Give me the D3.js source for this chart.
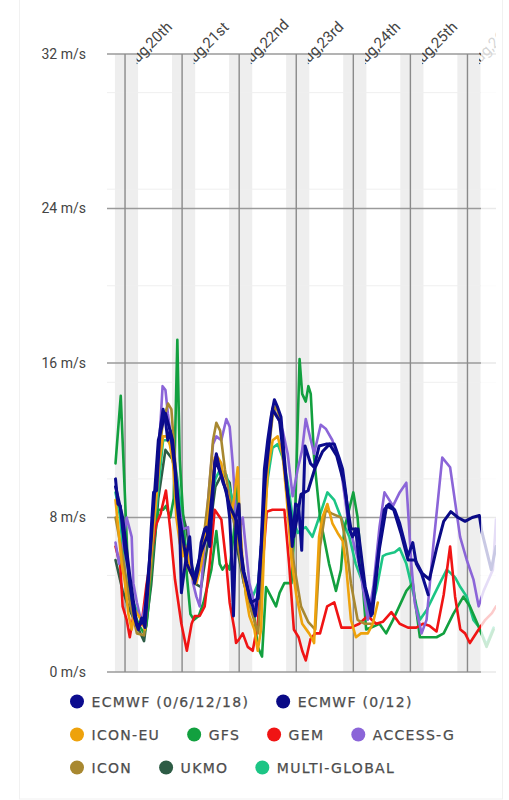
<!DOCTYPE html>
<html>
<head>
<meta charset="utf-8">
<script src="https://cdn.jsdelivr.net/npm/d3@7"></script>
<style>
  html, body { margin: 0; padding: 0; background: #fff; }
  svg { display: block; }
  .ylab { font-family: Roboto, sans-serif; font-size: 14px; fill: #444; }
  .dlab { font-family: Roboto, sans-serif; font-size: 15px; fill: #444; }
  .leg  { font-family: "DejaVu Sans", sans-serif; font-size: 14px; fill: #4d4d4d; stroke: #4d4d4d; stroke-width: 0.25px; letter-spacing: 1.3px; }
</style>
</head>
<body>
<div id="chart"></div>
<script>
// hours are counted from Aug 20th 00:00
const baseDay = new Date(2024, 7, 20, 0, 0)
const startHour = -8, endHour = 156

// axis ticks
const yTicks = [0, 8, 16, 24, 32]
const minorTicks = [5, 10, 15, 20, 25, 30]
const dayHours = [0, 24, 48, 72, 96, 120, 144]
const dayLabels = ["Aug,20th", "Aug,21st", "Aug,22nd", "Aug,23rd", "Aug,24th", "Aug,25th", "Aug,26th"]
// night (grey bands): 19:45 -> 05:30
const nightStart = -4.25, nightEnd = 5.5

// legend
const models = ["ECMWF (0/6/12/18)", "ECMWF (0/12)", "ICON-EU", "GFS", "GEM", "ACCESS-G", "ICON", "UKMO", "MULTI-GLOBAL"]
const colors = ["#0c0c8f", "#0a0a86", "#eea20c", "#12a03f", "#f01414", "#8b65d8", "#a88830", "#2d5c45", "#1cc585"]
const legendRows = [[0, 1], [2, 3, 4, 5], [6, 7, 8]]

// series [hour, m/s]
const ecmwf6 = [[-4,10.0],[-3,8.7],[-2,8.6],[-1,7.4],[0,6.3],[1,5.6],[2,4.6],[4,2.8],[5.6,2.2],[7,2.8],[8.4,2.3],[9.8,4.6],[11,7.4],[12,9.3],[13.3,9.4],[14.7,12.5],[16,13.6],[17,13.0],[18,12.0],[19,12.5],[20,11.5],[21,10.5],[21.6,9.1],[23,7.4],[23.7,4.1],[25,5.3],[25.8,6.0],[27.2,7.0],[28,5.6],[29.3,4.6],[30.7,5.3],[32,6.7],[33.5,7.4],[34.2,7.5],[35.6,6.5],[36.7,8.7],[37.7,10.8],[38.4,11.3],[39.8,10.5],[41.2,9.8],[42.6,9.4],[44,8.0],[44.6,6.5],[45.6,2.9],[46.7,8.0],[47.9,8.7],[48.8,6.2],[49.5,5.3],[51,4.6],[52.3,3.9],[53.7,3.4],[54.8,2.9],[55.8,4.1],[57.2,6.5],[58.6,10.5],[60,12.0],[61.4,13.2],[62.8,14.1],[64.2,13.7],[65.6,13.2],[67,11.1],[68.4,9.1],[69.8,7.4],[70.3,6.5],[71.7,8.7],[73,8.6],[74.3,6.3],[75.7,11.7],[78,10.8],[79.5,10.6],[81.6,11.7],[84.5,11.8],[88,11.8],[90,11.1],[91.5,10.5],[93,9.1],[94.3,7.4],[95.7,7.0],[97,7.4],[98.5,5.6],[101.4,4.1],[103.5,2.9],[105,4.6],[107,6.7],[109,8.4],[111,8.7],[113.4,8.4],[115.5,7.7],[117.6,6.7],[119,6.0],[121,6.7],[122.5,5.6],[124.7,5.1],[127.5,4.0]]
const ecmwf12 = [[-4,9.6],[-1,8.0],[2,5.0],[5,2.4],[8,2.6],[11,6.8],[14,12.0],[17,13.4],[20,12.0],[23,8.0],[26,5.6],[29,4.8],[32,6.2],[35,7.2],[38,11.0],[41,10.0],[44,8.6],[47,7.8],[50,5.2],[53,3.6],[56,3.8],[59,10.0],[62,13.6],[65,13.0],[68,9.6],[71,7.0],[74,9.2],[77,9.4],[80,10.6],[83,11.4],[86,11.8],[89,11.2],[92,9.8],[95,7.4],[98,7.4],[101,4.4],[104,3.0],[107,6.4],[110,8.6],[113,8.4],[116,7.2],[119,5.8],[122,5.8],[125,5.1],[128,4.8],[131,6.4],[134,7.8],[137,8.3],[140,8.0],[143,7.8],[146,8.0],[149,8.1],[150,7.3],[154,5.3],[156,6.5]]
const iconEu = [[-4,8.9],[-2.8,7.4],[-1.4,5.6],[0,4.6],[1.4,3.0],[2.8,2.2],[4.2,3.2],[6.3,2.8],[8.4,2.2],[10.5,5.6],[12.6,8.3],[14.7,11.1],[16,12.2],[17.4,12.2],[18.8,11.8],[20.2,10.8],[21.6,8.0],[23,6.7],[24.4,6.0],[25.8,6.5],[27.2,5.3],[28.6,4.8],[30,4.6],[32.1,5.6],[34.9,8.0],[36.3,9.4],[37.7,11.1],[39.1,11.1],[40.5,10.8],[41.9,9.6],[43.3,9.1],[44.6,8.0],[46,9.1],[47.4,10.6],[48.1,8.2],[49.5,5.6],[50.9,3.9],[52.3,2.9],[54.4,2.2],[55.8,1.1],[57.2,2.2],[58.6,6.8],[60,10.5],[62.1,12.0],[64.2,12.2],[66.3,11.2],[68,9.0],[70,5.8],[72,4.0],[74.5,2.5],[77.4,2.0],[78.8,1.7],[79.5,1.5],[81.6,7.0],[83,8.0],[85.1,8.7],[87.2,7.7],[89.4,7.2],[91.5,6.8],[92.9,5.6],[95,2.7],[97.1,1.8],[99.2,2.0],[102.1,2.0],[104.2,2.5],[106.3,3.6]]
const gfs = [[-4,10.8],[-1.8,14.3],[0,9.0],[1,6.0],[2,4.0],[4,3.0],[6,2.4],[8,2.0],[9,2.4],[10,3.6],[12,6.5],[14,8.4],[16,8.4],[17.2,8.6],[19,8.0],[20.5,9.0],[22,17.2],[23,11.0],[24.5,8.0],[26,5.0],[27.5,3.0],[29,2.7],[31,2.9],[33,3.6],[36.3,5.3],[38.4,7.3],[39.8,5.6],[41,5.3],[42.6,5.6],[44,5.3],[46,7.5],[47.4,9.8],[49,6.0],[51,3.9],[53.7,3.6],[55.8,1.3],[57.6,0.8],[59.3,4.4],[61.4,3.9],[63.5,3.4],[65,4.1],[67,4.6],[70,4.6],[71.5,8.0],[73.4,16.2],[74.5,14.4],[76,14.0],[77.1,14.8],[78.1,14.4],[79.5,11.1],[82,8.0],[85.8,5.6],[88.7,4.2],[90.8,5.3],[92.2,7.4],[96,9.3],[97.8,8.0],[101.4,2.2],[103.5,2.3],[107,2.5],[109.8,2.0],[112.7,2.7],[118.3,4.2],[121,4.6],[124,1.8],[127.6,1.8],[131,1.8],[134,2.0],[138,3.0],[142.3,3.9],[145,3.4],[148.7,2.35],[152,1.3],[155,2.2]]
const gem = [[-4,6.5],[-2,5.5],[-1,3.4],[0.7,2.7],[2,1.8],[3.5,2.9],[5,2.2],[7,2.5],[9,4.5],[11,6.0],[13,7.6],[15,8.2],[17.2,9.4],[19,7.4],[21,4.8],[23.7,2.5],[26,1.1],[28,2.5],[29.3,2.9],[31.4,2.9],[33.5,3.4],[35.6,5.6],[37.7,8.4],[40.5,7.9],[42.6,5.6],[44,3.6],[46,2.2],[46.7,1.5],[48,1.7],[49.5,2.0],[51.6,1.3],[53.7,1.1],[55.8,2.5],[57.9,5.6],[59.6,8.3],[62,8.4],[65,8.4],[67,8.4],[69,5.6],[71,2.2],[73,1.8],[74.5,1.1],[76,0.6],[78,1.7],[80,2.0],[82,2.0],[85,3.4],[88,3.6],[91,2.3],[95,2.3],[98.5,2.5],[102,2.9],[105.6,2.5],[108.4,2.6],[112,3.1],[115.5,2.5],[119,2.3],[122.5,2.3],[125.4,2.5],[128,2.4],[131,2.1],[134,4.0],[136.7,6.5],[138.8,3.9],[141,2.2],[143,2.0],[145,1.5],[148.7,2.2],[151.5,2.7],[154.3,3.05],[156,3.4]]
const accessG = [[-4,6.7],[-2.5,5.6],[-1,6.5],[0.7,8.0],[2.8,7.0],[3.5,4.6],[5,3.6],[7,2.5],[9,3.9],[11,6.0],[13,9.0],[14.5,12.0],[15.8,14.8],[17,14.6],[18,13.4],[19.5,12.0],[20.9,10.3],[22,9.1],[24.4,7.4],[26.5,7.5],[28.6,4.6],[30,3.9],[31.4,3.4],[32.8,5.6],[35,9.0],[37,11.8],[38.4,12.2],[40.5,12.0],[42.6,13.1],[44,12.7],[45.3,10.8],[46.7,8.0],[48.1,7.4],[49.5,8.0],[50.9,6.3],[52.3,4.6],[53.7,3.9],[55,3.0],[57,6.0],[60,11.7],[62.1,13.7],[64.2,13.2],[66.3,12.5],[68.4,11.3],[70.5,9.1],[72.6,10.5],[74.5,11.5],[76,13.1],[79.5,11.3],[82.3,12.8],[84.4,12.6],[87.2,12.0],[90.8,10.5],[93.6,8.0],[95,7.2],[98.5,5.6],[102.1,2.7],[104.5,4.5],[107,7.5],[109.1,9.3],[112.7,8.6],[115.5,9.3],[118.3,9.8],[120.4,5.6],[121.8,3.6],[124.7,2.0],[126.8,2.7],[129.6,6.5],[133.4,11.1],[136.7,10.6],[140.9,7.0],[143.7,5.8],[146.5,4.8],[148.7,3.4],[150.8,4.2],[154.7,5.3],[156,7.9]]
const icon = [[-4,8.0],[-1,6.0],[2,3.6],[5,2.0],[8,1.9],[11,5.5],[14,11.0],[16,13.0],[18.1,13.9],[19.5,13.6],[21,11.0],[23,7.5],[26,5.5],[29,4.8],[32,5.8],[35,9.0],[37,12.0],[38.4,12.9],[40,12.5],[42,10.5],[44,9.0],[47,7.0],[50,4.6],[53,3.2],[56,2.0],[58,6.0],[60,11.0],[62,13.2],[63.5,13.8],[65,13.2],[67,11.0],[69,8.0],[71,5.6],[74,3.4],[77,2.6],[80,2.2],[82,6.5],[84.4,8.4],[87,8.2],[90.8,8.0],[92.9,6.7],[95,4.6],[97.8,2.7],[100.7,2.5],[103.5,2.5]]
const ukmo = [[-4,5.8],[-1,4.2],[2,3.2],[5,2.4],[8,1.6],[11,4.5],[14,9.0],[17,11.5],[20,11.0],[23,8.8],[26,7.3],[29,4.6],[32,4.4],[35,6.8],[38,9.6],[41,10.3],[44,9.8],[47,6.5],[50,4.6],[53,3.6]]
const multi = [[-4,9.3],[-2,8.0],[-0.5,5.6],[1,4.0],[3.5,3.6],[6,2.9],[8,2.6],[10,4.0],[12,7.0],[14,9.5],[16,12.0],[18,12.0],[20,11.6],[22,10.0],[24,8.0],[26,6.0],[29,5.0],[32,6.0],[35,8.0],[38,10.0],[40,10.5],[42.6,10.2],[45,9.0],[47,7.6],[49,5.6],[51,4.1],[53.7,3.9],[56,4.6],[58,7.6],[60,10.0],[62,11.6],[64.2,11.8],[66.3,11.1],[68.4,9.8],[70.5,8.0],[72.6,7.2],[74.5,7.4],[76,7.5],[78.8,7.0],[81.6,8.0],[85.1,9.3],[88,8.9],[90.8,8.0],[94.3,7.0],[97,5.6],[100,4.6],[102.8,2.9],[105.6,4.2],[108.4,6.0],[110,6.1],[113.4,6.2],[115.5,6.4],[118.3,5.6],[121,4.2],[124,2.7],[126.8,3.2],[129.6,3.9],[132.4,4.6],[135.3,5.3],[138.8,4.9],[141,4.4],[143.7,3.9],[146.5,2.7],[149,2.3],[152,1.4],[155,2.3]]

const seriesData = [ecmwf6, ecmwf12, iconEu, gfs, gem, accessG, icon, ukmo, multi]
// drawing order, ECMWF on top
const drawOrder = [7, 8, 3, 4, 5, 6, 2, 1, 0]

const width = 509, height = 800
const plotLeft = 107, plotRight = 481, plotEnd = 496, plotTop = 54, plotBottom = 672

const hourToDate = h => new Date(baseDay.getTime() + h * 3600e3)

const x = d3.scaleTime()
  .domain([hourToDate(startHour), hourToDate(endHour)])
  .range([106, plotEnd])
const y = d3.scaleLinear().domain([0, 32]).range([plotBottom, plotTop])

const svg = d3.select("#chart").append("svg")
  .attr("width", width)
  .attr("height", height)

// card
svg.append("rect")
  .attr("x", 19.5).attr("y", -2).attr("width", 483).attr("height", 801)
  .attr("fill", "#fff").attr("stroke", "#f1f1f1")

const defs = svg.append("defs")
defs.append("clipPath").attr("id", "plotclip")
  .append("rect").attr("x", plotLeft).attr("y", 0).attr("width", plotEnd - plotLeft).attr("height", plotBottom + 2)

// each day label is cut where the night band ends
dayHours.forEach((d, i) => {
  const x0 = x(hourToDate(d + nightEnd)) - 1.5
  defs.append("clipPath").attr("id", "lc" + i)
    .append("rect").attr("x", x0).attr("y", 0)
    .attr("width", Math.min(70, plotEnd - x0)).attr("height", plotTop + 30)
})

const plot = svg.append("g").attr("clip-path", "url(#plotclip)")

// night bands
plot.selectAll(".band")
  .data(dayHours)
  .join("rect")
  .attr("class", "band")
  .attr("x", d => x(hourToDate(d + nightStart)))
  .attr("width", d => x(hourToDate(d + nightEnd)) - x(hourToDate(d + nightStart)))
  .attr("y", plotTop)
  .attr("height", plotBottom - plotTop)
  .attr("fill", "#eeeeee")

// day labels, wrapped in a group so the clip is in page space
svg.append("g")
  .selectAll("g")
  .data(dayHours)
  .join("g")
  .attr("clip-path", (d, i) => `url(#lc${i})`)
  .append("text")
  .attr("class", "dlab")
  .attr("transform", d => `translate(${x(hourToDate(d)) + 6},${plotTop + 16}) rotate(-45)`)
  .text((d, i) => dayLabels[i])

// minor grid
plot.selectAll(".minor")
  .data(minorTicks)
  .join("line")
  .attr("x1", plotLeft).attr("x2", plotEnd)
  .attr("y1", d => y(d)).attr("y2", d => y(d))
  .attr("stroke", "#efefef").attr("stroke-width", 1)

// major grid
plot.selectAll(".major")
  .data(yTicks)
  .join("line")
  .attr("x1", plotLeft).attr("x2", plotEnd)
  .attr("y1", d => y(d)).attr("y2", d => y(d))
  .attr("stroke", "#9a9a9a").attr("stroke-width", 1.4)

// day lines
plot.selectAll(".day")
  .data(dayHours)
  .join("line")
  .attr("x1", d => x(hourToDate(d))).attr("x2", d => x(hourToDate(d)))
  .attr("y1", plotTop).attr("y2", plotBottom)
  .attr("stroke", "#8a8a8a").attr("stroke-width", 1.4)

// y labels
svg.selectAll(".ylab")
  .data(yTicks)
  .join("text")
  .attr("class", "ylab")
  .attr("x", 86)
  .attr("y", d => y(d))
  .attr("dy", "0.35em")
  .attr("text-anchor", "end")
  .text(d => d + " m/s")

// lines
const line = d3.line()
  .x(d => x(hourToDate(d[0])))
  .y(d => y(d[1]))

plot.selectAll(".series")
  .data(drawOrder)
  .join("path")
  .attr("d", i => line(seriesData[i]))
  .attr("fill", "none")
  .attr("stroke", i => colors[i])
  .attr("stroke-width", i => i < 2 ? 3 : 2.6)
  .attr("stroke-linejoin", "round")
  .attr("stroke-linecap", "round")

// fade on the right edge
svg.append("rect")
  .attr("x", plotRight).attr("y", 15)
  .attr("width", plotEnd - plotRight + 1).attr("height", plotBottom - 10)
  .attr("fill", "#fff").attr("opacity", 0.78)

// legend
const legend = svg.append("g")
legendRows.forEach((row, r) => {
  let cx = 77
  const cy = 701.5 + r * 33
  row.forEach(i => {
    legend.append("circle")
      .attr("cx", cx).attr("cy", cy).attr("r", 7)
      .attr("fill", colors[i])
    const t = legend.append("text")
      .attr("class", "leg")
      .attr("x", cx + 14.5)
      .attr("y", cy)
      .attr("dy", "0.36em")
      .text(models[i])
    cx = cx + 14.5 + t.node().getComputedTextLength() + 34
  })
})
</script>
</body>
</html>
